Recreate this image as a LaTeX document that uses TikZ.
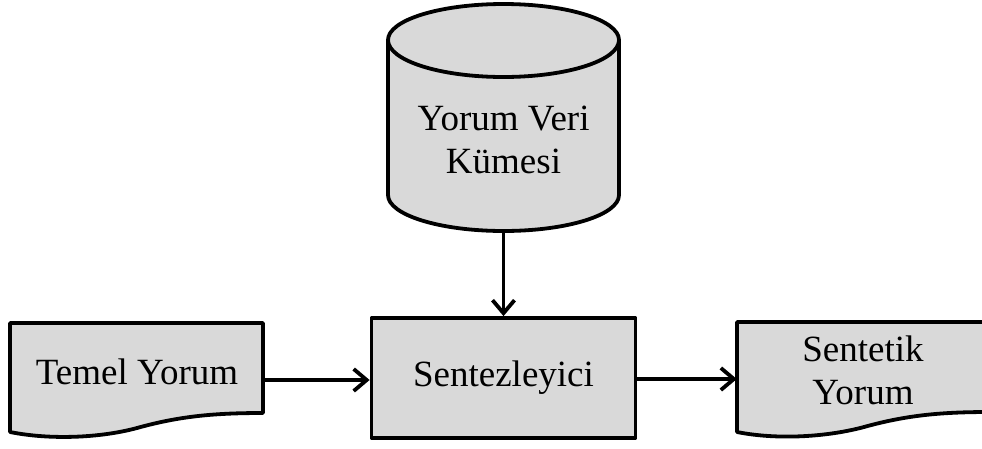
\documentclass[tikz,border=0pt]{standalone}
\usepackage{fontspec}
\setmainfont{Liberation Serif}
\usetikzlibrary{arrows.meta}

\definecolor{boxfill}{HTML}{D9D9D9}

\tikzset{
  outline/.style={draw=black, line width=3.8pt, fill=boxfill, line join=round},
  label/.style={font=\fontsize{37}{43}\selectfont, align=center, inner sep=0pt},
  area/.style={inner sep=0pt, draw=none},
  flow/.style={line width=3.8pt, -{Straight Barb[length=13pt, width=22pt, line width=3.8pt]}},
}

\begin{document}
\begin{tikzpicture}[x=1pt, y=-1pt]
  \useasboundingbox (0,0) rectangle (982,448);

  % Database cylinder
  \node[area, minimum width=230pt, minimum height=228pt] (db) at (503.5,116) {};
  \draw[outline] (388,40) -- (388,195) arc[start angle=180, end angle=360, x radius=115.5, y radius=-36]
                 -- (619,40) arc[start angle=0, end angle=180, x radius=115.5, y radius=-36] -- cycle;
  \draw[outline] (388,40) arc[start angle=180, end angle=360, x radius=115.5, y radius=-37];
  \node[label] (dbtext) at (503.5,140) {Yorum Veri\\Kümesi};

  % Synthesizer process box
  \node[outline, minimum width=264pt, minimum height=120pt, label] (synth) at (503.5,378) {Sentezleyici};

  % Input document
  \node[area, minimum width=253pt, minimum height=115pt] (base) at (136.5,380.5) {};
  \draw[outline] (10,323) -- (263,323) -- (263,413)
    .. controls (215,413) and (180,416) .. (137,428)
    .. controls (100,438) and (50,440) .. (10,432) -- cycle;
  \node[label] (basetext) at (137,372) {Temel Yorum};

  % Output document
  \node[area, minimum width=253pt, minimum height=115pt] (out) at (863.5,380) {};
  \draw[outline] (737,322) -- (990,322) -- (990,412)
    .. controls (942,412) and (907,415) .. (864,427)
    .. controls (827,437) and (777,440) .. (737,432) -- cycle;
  \node[label] (outtext) at (863,370) {Sentetik\\Yorum};

  % Connectors
  \draw[flow] (db.south) -- (synth.north);
  \draw[flow] (base.east |- 0,380) -- (synth.west |- 0,380);
  \draw[flow] (synth.east |- 0,379) -- (out.west |- 0,379);
\end{tikzpicture}
\end{document}
